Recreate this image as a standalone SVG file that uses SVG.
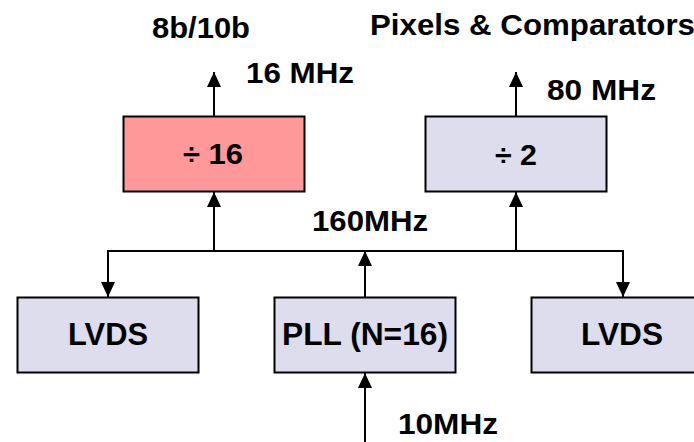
<svg xmlns="http://www.w3.org/2000/svg" width="694" height="442" viewBox="0 0 694 442">
<style>
.t{font-family:"Liberation Sans",Arial,sans-serif;font-weight:bold;font-size:29px;fill:#000}
.b{font-size:31px}
.box{stroke:#000;stroke-width:2}
.lav{fill:#DDDDEE}
.pink{fill:#FF9999}
.c{stroke:#000;stroke-width:2;fill:none}
</style>
<defs>
<marker id="ah" viewBox="0 0 15 14" refX="15" refY="7" markerWidth="15" markerHeight="14" orient="auto" markerUnits="userSpaceOnUse">
<path d="M0,0 L15,7 L0,14 z" fill="#000"/>
</marker>
</defs>
<rect width="694" height="442" fill="#fff"/>
<g id="labels">
<text class="t" x="152" y="38" textLength="98" lengthAdjust="spacingAndGlyphs">8b/10b</text>
<text class="t" x="370" y="35" textLength="325" lengthAdjust="spacingAndGlyphs">Pixels &amp; Comparators</text>
<text class="t" x="246" y="83" textLength="108" lengthAdjust="spacingAndGlyphs">16 MHz</text>
<text class="t" x="547" y="100" textLength="109" lengthAdjust="spacingAndGlyphs">80 MHz</text>
<text class="t" x="312" y="231" textLength="116" lengthAdjust="spacingAndGlyphs">160MHz</text>
<text class="t" x="398" y="434" textLength="100" lengthAdjust="spacingAndGlyphs">10MHz</text>
</g>
<g id="connectors">
<line class="c" x1="214" y1="116" x2="214" y2="72" marker-end="url(#ah)"/>
<line class="c" x1="516" y1="116" x2="516" y2="72" marker-end="url(#ah)"/>
<line class="c" x1="107" y1="251" x2="624" y2="251"/>
<line class="c" x1="214" y1="251" x2="214" y2="192" marker-end="url(#ah)"/>
<line class="c" x1="516" y1="251" x2="516" y2="192" marker-end="url(#ah)"/>
<line class="c" x1="108" y1="250" x2="108" y2="297" marker-end="url(#ah)"/>
<line class="c" x1="623" y1="250" x2="623" y2="297" marker-end="url(#ah)"/>
<line class="c" x1="365" y1="297" x2="365" y2="251" marker-end="url(#ah)"/>
<line class="c" x1="365" y1="442" x2="365" y2="373" marker-end="url(#ah)"/>
</g>
<g id="div16">
<rect class="box pink" x="123.5" y="116.5" width="181" height="75"/>
<text class="t" x="213" y="164" text-anchor="middle" textLength="60" lengthAdjust="spacingAndGlyphs">÷ 16</text>
</g>
<g id="div2">
<rect class="box lav" x="425.5" y="116.5" width="181" height="75"/>
<text class="t" x="516" y="165" text-anchor="middle" textLength="42" lengthAdjust="spacingAndGlyphs">÷ 2</text>
</g>
<g id="lvds-left">
<rect class="box lav" x="17.5" y="297.5" width="181" height="75"/>
<text class="t b" x="108" y="345" text-anchor="middle" textLength="80" lengthAdjust="spacingAndGlyphs">LVDS</text>
</g>
<g id="pll">
<rect class="box lav" x="274.5" y="297.5" width="181" height="75"/>
<text class="t b" x="365" y="345" text-anchor="middle" textLength="166" lengthAdjust="spacingAndGlyphs">PLL (N=16)</text>
</g>
<g id="lvds-right">
<rect class="box lav" x="531.5" y="297.5" width="181" height="75"/>
<text class="t b" x="622" y="345" text-anchor="middle" textLength="82" lengthAdjust="spacingAndGlyphs">LVDS</text>
</g>
</svg>
